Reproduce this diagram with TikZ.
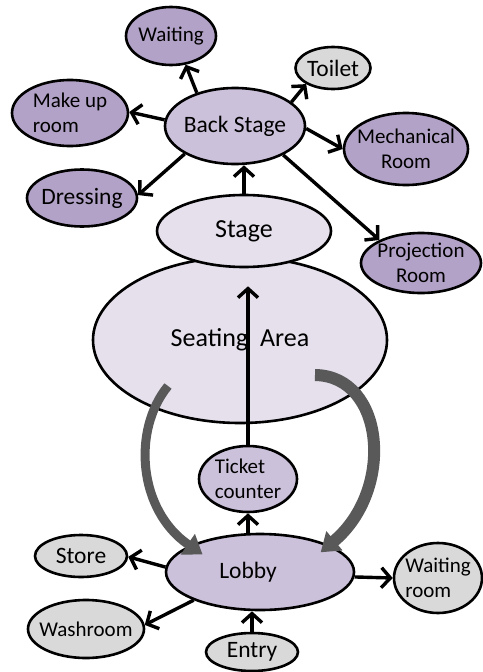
\documentclass[tikz,border=0pt]{standalone}
\usepackage{fontspec}
\setmainfont{Carlito}
\usetikzlibrary{positioning, calc, arrows.meta, shapes.geometric}
\definecolor{Deep}{HTML}{B3A2C7}
\definecolor{Mid}{HTML}{CCC1DA}
\definecolor{Pale}{HTML}{E5E0EC}
\definecolor{Grey}{HTML}{D9D9D9}
\definecolor{Shade}{HTML}{595959}
\newcommand{\fsS}{\fontsize{21}{25}\selectfont}
\newcommand{\fsM}{\fontsize{23.5}{28}\selectfont}
\newcommand{\fsL}{\fontsize{26}{31}\selectfont}
\tikzset{
    room/.style={ellipse, draw=black, line width=2.6pt, inner sep=-8pt, align=center, font=\fsS},
    deepnode/.style={room, fill=Deep},
    midnode/.style={room, fill=Mid},
    palenode/.style={room, fill=Pale},
    greynode/.style={room, fill=Grey},
    arrow/.style={-{Straight Barb[length=9pt, width=20pt]}, line width=3.4pt, color=black},
    curvearrow/.style={-{Triangle[length=18pt, width=24pt]}, color=Shade},
}
\begin{document}
\begin{tikzpicture}[x=1pt, y=-1pt]
                \useasboundingbox (0,0) rectangle (482,672);

                % Sala e palco
                \node[palenode, minimum width=294pt, minimum height=166pt, font=\fsL] (seating) at (240,340) {Seating\hspace{12pt}Area};
                \node[palenode, minimum width=174pt, minimum height=72pt, font=\fsL] (stage) at (244,231) {Stage};
                \node[midnode, minimum width=140pt, minimum height=76pt, font=\fsM] (backstage) at (235,126) {Back Stage};

                % Intorno al backstage
                \node[deepnode, minimum width=90pt, minimum height=58pt] (waiting) at (171,36) {Waiting};
                \node[greynode, minimum width=75pt, minimum height=42pt, font=\fsM] (toilet) at (333,68) {Toilet};
                \node[deepnode, minimum width=116pt, minimum height=66pt, align=left] (makeup) at (70,113) {Make up\\room};
                \node[deepnode, minimum width=124pt, minimum height=72pt] (mechanical) at (406,149) {Mechanical\\Room};
                \node[deepnode, minimum width=110pt, minimum height=57pt, font=\fsM] (dressing) at (82,198) {Dressing};
                \node[deepnode, minimum width=120pt, minimum height=60pt] (projection) at (421,263) {Projection\\Room};

                % Ingresso
                \node[midnode, minimum width=98pt, minimum height=66pt, align=left] (ticket) at (248,479) {Ticket\\counter};
                \node[midnode, minimum width=188pt, minimum height=76pt, font=\fsM] (lobby) at (260,572) {\hspace*{-24pt}Lobby};
                \node[greynode, minimum width=92pt, minimum height=42pt, font=\fsM] (store) at (81,556) {Store};
                \node[greynode, minimum width=88pt, minimum height=70pt, align=left] (waitroom) at (438,578) {Waiting\\room};
                \node[greynode, minimum width=116pt, minimum height=58pt] (washroom) at (86,629) {Washroom};
                \node[greynode, minimum width=92pt, minimum height=38pt, font=\fsM] (entry) at (252,652) {Entry};

                % Frecce
                \draw[arrow] (backstage.139) -- (waiting.-63);
                \draw[arrow] (backstage.23) -- (toilet.211);
                \draw[arrow] (backstage.175) -- (makeup.1);
                \draw[arrow] (backstage.-2) -- (mechanical.180);
                \draw[arrow] (backstage.209) -- (dressing.3);
                \draw[arrow] (backstage.-31) -- (projection.151);
                \draw[arrow] (stage.north) -- (stage.north |- backstage.south);
                \draw[arrow, shorten >=18pt] (ticket.north) -- (ticket.north |- stage.south);
                \draw[arrow] (ticket.south |- lobby.north) -- (ticket.south);
                \draw[arrow] (lobby.177) -- (store.-1);
                \draw[arrow] (lobby.203) -- (washroom.4);
                \draw[arrow] (lobby.-3) -- (waitroom.180);
                \draw[arrow] (entry.north) -- (entry.north |- lobby.south);

                % Frecce curve grigie
                \coordinate (seatL) at (168,386);
                \coordinate (seatR) at (315,375);
                \draw[curvearrow, line width=9pt] (seatL) .. controls (132,430) and (138,510) .. ($(lobby.center)!0.75!(lobby.163)$);
                \draw[curvearrow, line width=12pt] (seatR) .. controls (385,376) and (395,490) .. ($(lobby.center)!0.81!(lobby.18)$);
            \end{tikzpicture}
\end{document}
